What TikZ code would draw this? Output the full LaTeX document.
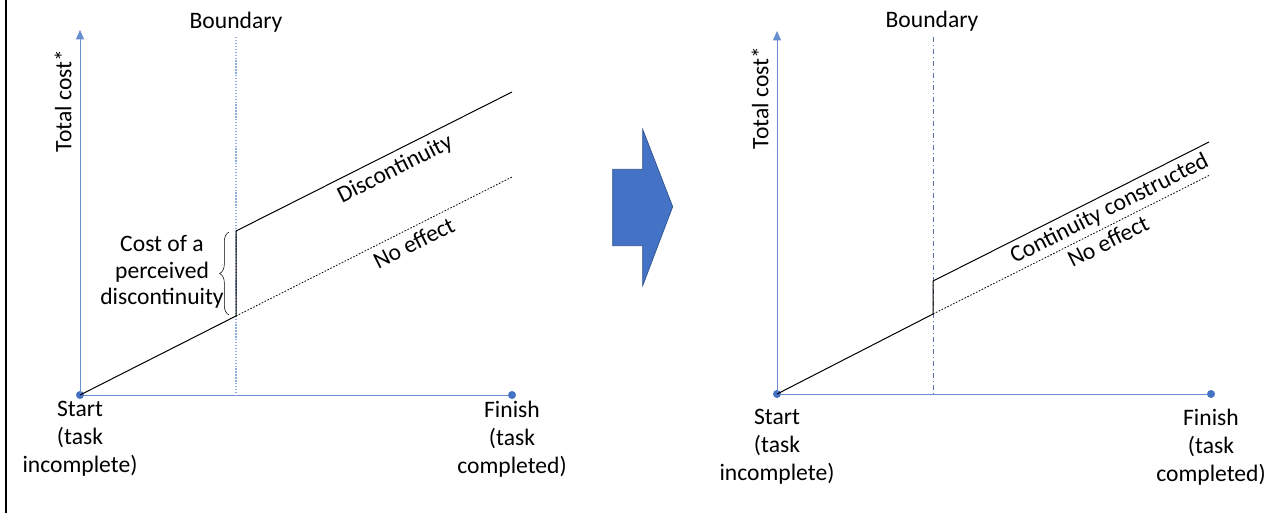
\documentclass[tikz,border=0pt]{standalone}
\usepackage{fontspec}
\setmainfont{Carlito}
\usetikzlibrary{arrows.meta,decorations.pathreplacing}
\definecolor{ax}{RGB}{68,114,196}
\definecolor{bd}{RGB}{143,170,220}
\definecolor{bk}{RGB}{47,82,143}

\begin{document}
\begin{tikzpicture}[scale=0.75,
  dot/.style={circle, minimum size=6pt, inner sep=0pt, fill=ax},
  axis/.style={line width=0.7pt, color=ax!80},
  lbl/.style={font=\fontsize{17.7pt}{21pt}\selectfont, align=center, inner sep=0pt},
  cost/.style={line width=0.75pt, color=black},
  noeff/.style={line width=0.6pt, color=black, dash pattern=on 1.2pt off 1.2pt}]
\useasboundingbox (0pt, 0pt) rectangle (1277pt, -513pt);
\draw [line width=1.5pt] (6pt, 0pt) -- (6pt, -513pt);
% left graph
\node (1) [dot] at (80.0pt, -395.0pt) {};
\node (2) [dot] at (512.0pt, -395.0pt) {};
\coordinate (3) at (80.0pt, -30.0pt);
\coordinate (4) at (236.0pt, -37.0pt);
\coordinate (5) at (236.0pt, -395.0pt);
\coordinate (6) at (236.0pt, -316.0pt);
\coordinate (7) at (236.0pt, -231.0pt);
\coordinate (8) at (512.0pt, -92.0pt);
\coordinate (9) at (512.0pt, -177.0pt);
\draw [axis] (1) to (2);
\draw [axis, -{Triangle[length=7pt, width=6pt]}] (1.center) to (3);
\draw [line width=0.8pt, color=bd, dash pattern=on 1pt off 1.2pt] (4) to (5);
\draw [cost] (1.center) to (6) to (7) to node [lbl, sloped, below=4.5pt, pos=0.55] {Discontinuity} (8);
\draw [noeff] (6) to node [lbl, sloped, below=4.5pt, pos=0.62] {No effect} (9);
\draw [decorate, decoration={brace, amplitude=7pt}] (229pt, -315pt) to (229pt, -232pt);
\node (10) [lbl] at (236.0pt, -22.0pt) {Boundary};
\node (11) [lbl, rotate=90] at (63.0pt, -101.0pt) {Total cost*};
\node (12) [lbl] at (80.0pt, -439.0pt) {Start\\(task\\incomplete)};
\node (13) [lbl] at (512.0pt, -439.0pt) {Finish\\(task\\completed)};
\node (14) [lbl, font=\fontsize{17.7pt}{20pt}\selectfont] at (162.0pt, -272.0pt) {Cost of a\\perceived\\discontinuity};
% arrow between the graphs
\draw [fill=ax, draw=bk, line width=0.5pt] (612.7pt, -169.3pt) -- (642.7pt, -169.3pt) -- (642.7pt, -129.3pt) -- (672.7pt, -206.7pt) -- (642.7pt, -285.7pt) -- (642.7pt, -245.7pt) -- (612.7pt, -245.7pt) -- cycle;
% right graph
\node (15) [dot] at (777.0pt, -394.0pt) {};
\node (16) [dot] at (1211.0pt, -394.0pt) {};
\coordinate (17) at (777.0pt, -31.0pt);
\coordinate (18) at (933.0pt, -37.0pt);
\coordinate (19) at (933.0pt, -394.0pt);
\coordinate (20) at (933.0pt, -314.0pt);
\coordinate (21) at (933.0pt, -281.0pt);
\coordinate (22) at (1209.0pt, -142.0pt);
\coordinate (23) at (1210.0pt, -175.0pt);
\draw [axis] (15) to (16);
\draw [axis, -{Triangle[length=7pt, width=6pt]}] (15.center) to (17);
\draw [line width=0.6pt, color=bk!80, dash pattern=on 4pt off 2pt on 1pt off 2pt] (18) to (19);
\draw [cost] (15.center) to (20) to (21) to node [lbl, sloped, below=3.5pt, pos=0.615] {Continuity constructed} (22);
\draw [noeff] (20) to node [lbl, sloped, below=3.5pt, pos=0.61] {No effect} (23);
\node (24) [lbl] at (932.0pt, -21.0pt) {Boundary};
\node (25) [lbl, rotate=90] at (760.0pt, -98.0pt) {Total cost*};
\node (26) [lbl] at (777.0pt, -447.0pt) {Start\\(task\\incomplete)};
\node (27) [lbl] at (1211.0pt, -447.0pt) {Finish\\(task\\completed)};
\end{tikzpicture}
\end{document}
